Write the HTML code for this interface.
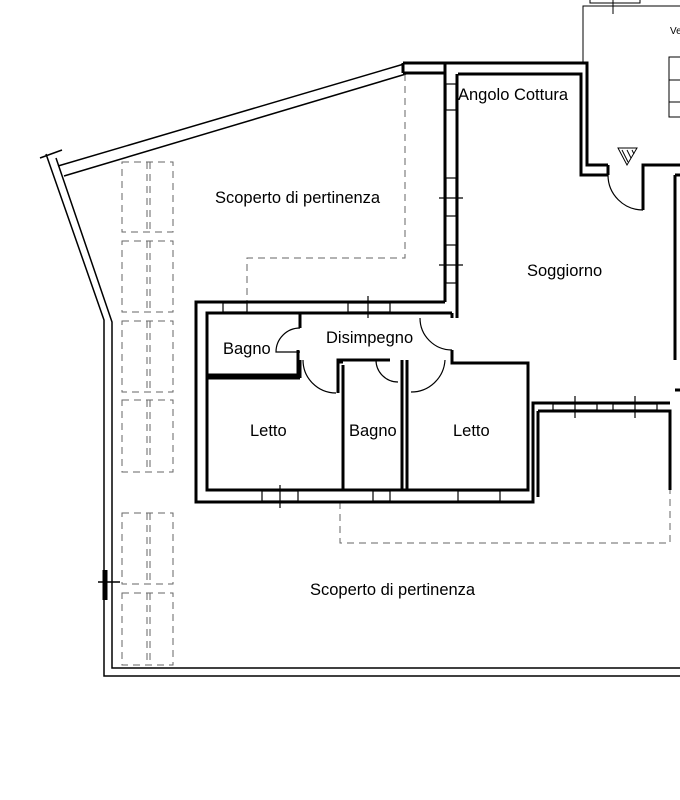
<!DOCTYPE html>
<html><head><meta charset="utf-8"><style>
html,body{margin:0;padding:0;background:#fff}
svg{display:block}
text{font-family:"Liberation Sans",Arial,sans-serif;font-size:16.5px;fill:#000}
</style></head><body>
<svg width="680" height="800" viewBox="0 0 680 800" xmlns="http://www.w3.org/2000/svg">
<g fill="none" stroke="#000">
<g stroke-width="1.5">
<polyline points="58,166 404,64"/>
<polyline points="64,176 406,74"/>
<polyline points="46,154 104,320 104,676 680,676"/>
<polyline points="56,158 112,322 112,668 680,668"/>
<line x1="40" y1="158" x2="62" y2="150"/>
</g>
<line x1="105" y1="570" x2="105" y2="600" stroke-width="5"/>
<line x1="98" y1="582" x2="120" y2="582" stroke-width="1.5"/>
<g stroke="#666" stroke-width="1" stroke-dasharray="7,5">
<polyline points="405,74 405,258 247,258 247,302"/>
<polyline points="340,502 340,543 670,543 670,490"/>
<rect x="122" y="162" width="51" height="70"/><line x1="147" y1="162" x2="147" y2="232"/><line x1="150" y1="162" x2="150" y2="232"/>
<rect x="122" y="241" width="51" height="71"/><line x1="147" y1="241" x2="147" y2="312"/><line x1="150" y1="241" x2="150" y2="312"/>
<rect x="122" y="321" width="51" height="71"/><line x1="147" y1="321" x2="147" y2="392"/><line x1="150" y1="321" x2="150" y2="392"/>
<rect x="122" y="400" width="51" height="72"/><line x1="147" y1="400" x2="147" y2="472"/><line x1="150" y1="400" x2="150" y2="472"/>
<rect x="122" y="513" width="51" height="71"/><line x1="147" y1="513" x2="147" y2="584"/><line x1="150" y1="513" x2="150" y2="584"/>
<rect x="122" y="593" width="51" height="72"/><line x1="147" y1="593" x2="147" y2="665"/><line x1="150" y1="593" x2="150" y2="665"/>
</g>
<g stroke-width="3">
<polyline points="403,63 587,63 587,165 608,165"/>
<polyline points="458,74 581,74 581,175 608,175"/>
<line x1="608" y1="165" x2="608" y2="175"/>
<polyline points="643,175 643,165 680,165"/>
<polyline points="643,175 643,210"/>
<polyline points="675,175 680,175"/>
<line x1="675" y1="175" x2="675" y2="360"/>
<line x1="675" y1="390" x2="680" y2="390"/>
<line x1="445" y1="63" x2="445" y2="302"/>
<line x1="457" y1="74" x2="457" y2="318"/>
<line x1="403" y1="63" x2="403" y2="73"/>
<line x1="403" y1="73" x2="445" y2="73"/>
<polyline points="445,302 196,302 196,502 533,502 533,403 670,403"/>
<polyline points="452,313 207,313 207,490 528,490 528,363 452,363 452,350"/>
<line x1="452" y1="313" x2="452" y2="318"/>
<polyline points="538,411 538,497"/>
<polyline points="538,411 670,411 670,490"/>
<polyline points="207,375 298,375 298,350"/>
<line x1="300" y1="313" x2="300" y2="328"/>
<line x1="207" y1="378" x2="300" y2="378"/>
<line x1="300" y1="360" x2="300" y2="378"/>
<polyline points="338,393 338,360 390,360"/>
<line x1="343" y1="365" x2="343" y2="490"/>
<line x1="402" y1="360" x2="402" y2="490"/>
<line x1="407" y1="360" x2="407" y2="490"/>
<line x1="343" y1="362" x2="338" y2="362"/>
</g>
<g stroke-width="1.2">
<path d="M300,328 A24,24 0 0 0 276,352 L300,352"/>
<path d="M303,360 A33,33 0 0 0 336,393"/>
<path d="M376,360 A22,22 0 0 0 398,382"/>
<path d="M445,360 A34,34 0 0 1 411,392"/>
<path d="M420,318 A32,32 0 0 0 452,350"/>
<path d="M608,175 A35,35 0 0 0 643,210"/>
</g>
<g stroke-width="1.2">
<rect x="223" y="303" width="24" height="9" fill="#fff"/>
<rect x="348" y="303" width="42" height="9" fill="#fff"/><line x1="368" y1="296" x2="368" y2="318"/>
<rect x="262" y="491" width="36" height="10" fill="#fff"/><line x1="280" y1="485" x2="280" y2="508"/>
<rect x="373" y="491" width="17" height="10" fill="#fff"/>
<rect x="458" y="491" width="42" height="10" fill="#fff"/>
<rect x="446" y="84" width="10" height="26" fill="#fff"/>
<rect x="446" y="178" width="10" height="38" fill="#fff"/><line x1="439" y1="198" x2="463" y2="198"/>
<rect x="446" y="245" width="10" height="38" fill="#fff"/><line x1="439" y1="265" x2="463" y2="265"/>
<rect x="553" y="404" width="44" height="6" fill="#fff"/><line x1="575" y1="396" x2="575" y2="418"/>
<rect x="613" y="404" width="44" height="6" fill="#fff"/><line x1="635" y1="396" x2="635" y2="418"/>
</g>
<g stroke-width="1">
<polyline points="583,63 583,6 680,6"/>
<polyline points="590,0 590,3 640,3 640,0"/>
<line x1="613" y1="0" x2="613" y2="14"/>
<rect x="669" y="57" width="12" height="60"/>
<line x1="669" y1="80" x2="681" y2="80"/><line x1="669" y1="102" x2="681" y2="102"/>
<path d="M618,148 L637,148 L627,165 Z"/>
<line x1="622" y1="150" x2="628" y2="162"/><line x1="627" y1="150" x2="631" y2="158"/><line x1="632" y1="150" x2="634" y2="154"/>
</g>
</g>
<text x="458" y="100">Angolo Cottura</text>
<text x="215" y="203">Scoperto di pertinenza</text>
<text x="527" y="276">Soggiorno</text>
<text x="223" y="354">Bagno</text>
<text x="326" y="343">Disimpegno</text>
<text x="250" y="436">Letto</text>
<text x="349" y="436">Bagno</text>
<text x="453" y="436">Letto</text>
<text x="310" y="595">Scoperto di pertinenza</text>
<text x="670" y="34" style="font-size:10px">Ve</text>
</svg>
</body></html>
